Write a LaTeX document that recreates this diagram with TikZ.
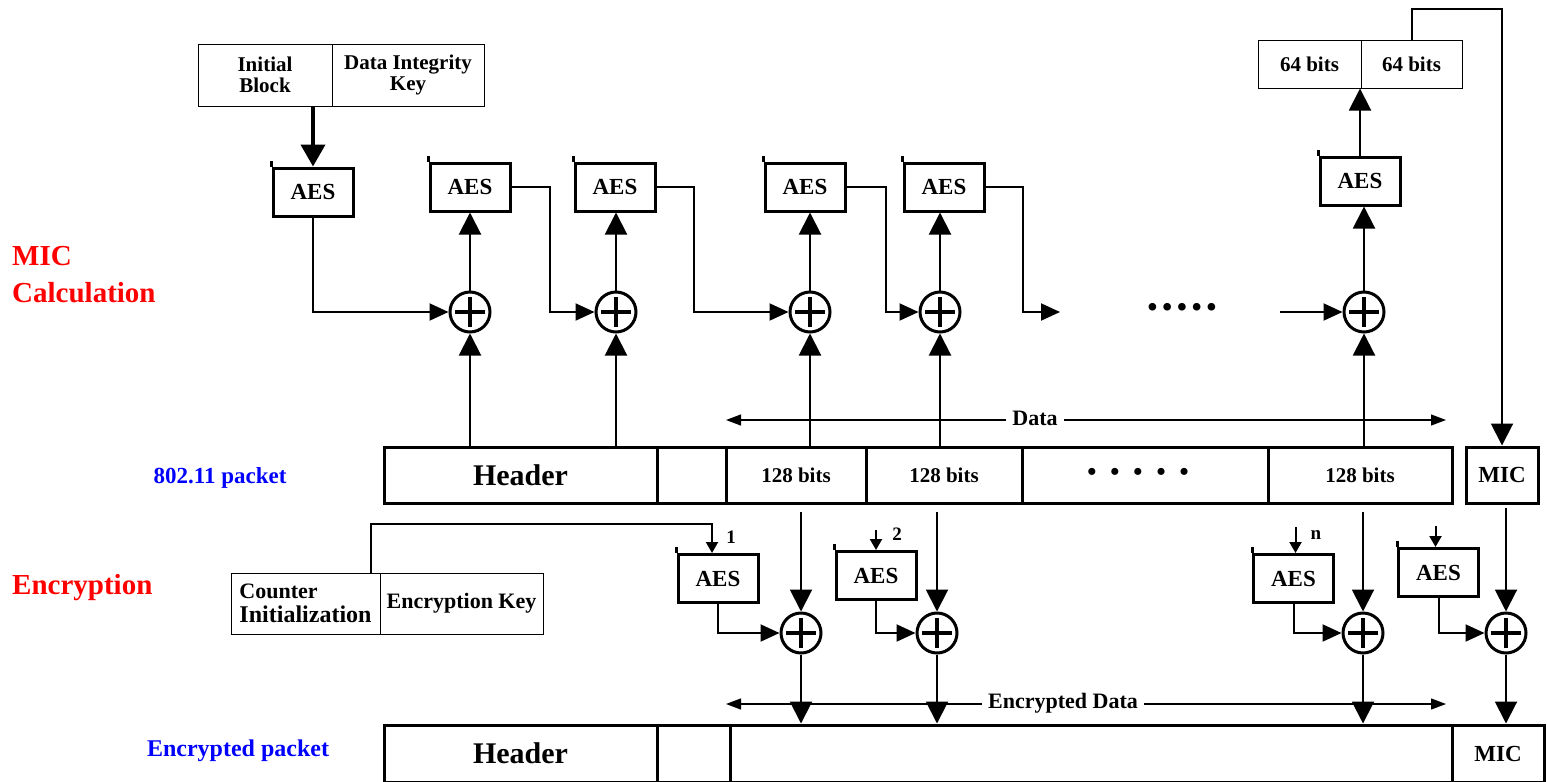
\documentclass[tikz,border=0pt]{standalone}
\usepackage{fontspec}
\setmainfont{Liberation Serif}
\usetikzlibrary{arrows.meta}
\newcommand\myfs[1]{\fontsize{#1}{#1}\selectfont}
\begin{document}
\begin{tikzpicture}[x=1pt,y=-1pt,
  every node/.style={font=\bfseries},
  aes/.style={draw,line width=3pt,minimum width=80pt,minimum height=48pt,inner sep=0pt,font=\bfseries\myfs{23}},
  xor/.style={circle,draw,line width=3pt,minimum size=40pt,inner sep=0pt,
    path picture={\draw[line width=3.5pt]
      ([xshift=-15pt]path picture bounding box.center) -- ([xshift=15pt]path picture bounding box.center)
      ([yshift=-15pt]path picture bounding box.center) -- ([yshift=15pt]path picture bounding box.center);}},
  cell/.style={draw,line width=3pt,minimum height=56pt,inner sep=0pt,font=\bfseries\myfs{21}},
  thincell/.style={draw,line width=1pt,inner sep=0pt,font=\bfseries\myfs{21}},
  conn/.style={line width=2pt},
  arr/.style={line width=2pt,-{Triangle[length=22pt,width=22pt]}},
  harr/.style={line width=2pt,-{Triangle[length=19pt,width=17pt]}},
  sarr/.style={line width=2pt,-{Triangle[length=11pt,width=12pt]}},
  darr/.style={line width=1.2pt,{Triangle[length=15pt,width=11pt]}-{Triangle[length=15pt,width=11pt]}},
  lbl/.style={fill=white,inner sep=6pt,font=\bfseries\myfs{22}},
]
\useasboundingbox (0,0) rectangle (1548,782);

% ---------- side labels ----------
\node[anchor=west,align=left,text=red,font=\bfseries\fontsize{29}{37}\selectfont,inner sep=0pt] (micl) at (12,275) {MIC\\Calculation};
\node[anchor=west,text=red,font=\bfseries\myfs{29},inner sep=0pt] (encl) at (12,588) {Encryption};
\node[text=blue,font=\bfseries\myfs{23}] (pk) at (220,478) {802.11 packet};
\node[text=blue,font=\bfseries\myfs{24}] (epk) at (238,751) {Encrypted packet};

% ---------- initial block ----------
\node[thincell,minimum width=134pt,minimum height=62pt,align=center] (ib1) at (265,75) {Initial\\Block};
\node[thincell,minimum width=152pt,minimum height=62pt,align=center] (ib2) at (408,75) {Data Integrity\\Key};

% ---------- MIC AES boxes ----------
\node[aes] (aes0) at (313,192) {AES};
\node[aes] (aes1) at (470,187) {AES};
\node[aes] (aes2) at (615,187) {AES};
\node[aes] (aes3) at (805,187) {AES};
\node[aes] (aes4) at (944,187) {AES};
\node[aes] (aes5) at (1360,181) {AES};

% XOR top row
\node[xor] (x1) at (470,312) {};
\node[xor] (x2) at (616,312) {};
\node[xor] (x3) at (810,312) {};
\node[xor] (x4) at (940,312) {};
\node[xor] (x5) at (1364,312) {};

% 64 bits box
\node[thincell,minimum width=103pt,minimum height=48pt] (sf1) at (1309.5,64) {64 bits};
\node[thincell,minimum width=101pt,minimum height=48pt] (sf2) at (1411.5,64) {64 bits};

% ---------- 802.11 packet ----------
\node[cell,minimum width=273pt] (hdr) at (520.5,475) {\myfs{30}Header};
\node[cell,minimum width=69pt] (gap) at (691.5,475) {};
\node[cell,minimum width=140pt] (b1) at (796,475) {128 bits};
\node[cell,minimum width=156pt] (b2) at (944,475) {128 bits};
\node[cell,minimum width=246pt] (bd) at (1145,475) {\myfs{26}\raisebox{1pt}{\textbullet\hskip 14pt\textbullet\hskip 14pt\textbullet\hskip 14pt\textbullet\hskip 14pt\textbullet}\hspace*{14pt}};
\node[cell,minimum width=184pt] (bn) at (1360,475) {128 bits};
\node[cell,minimum width=72pt,font=\bfseries\myfs{23}] (mic) at (1502,475) {MIC};

% Data arrow
\coordinate (dl) at (726,420);
\coordinate (dr) at (1446,420);
\draw[darr] (dl) -- (dr);
\node[lbl] (dlab) at (1035,418) {Data};

% ---------- MIC chain connectors ----------
\draw[line width=4pt,-{Triangle[length=22pt,width=24pt]}] (aes0.north |- ib1.south) -- (aes0.north);
\draw[harr] (aes0.south) |- (x1.west);
\draw[arr] (x1.north) -- (x1.north |- aes1.south);
\draw[harr] (aes1.east) -- ++(38,0) |- (x2.west);
\draw[arr] (x2.north) -- (x2.north |- aes2.south);
\draw[harr] (aes2.east) -- ++(37,0) |- (x3.west);
\draw[arr] (x3.north) -- (x3.north |- aes3.south);
\draw[harr] (aes3.east) -- ++(39,0) |- (x4.west);
\draw[arr] (x4.north) -- (x4.north |- aes4.south);
\coordinate (gl) at (1060,312);
\draw[harr] (aes4.east) -- ++(37,0) |- (gl);
\node[font=\bfseries\myfs{28}] (tdots) at (1182,310) {\textbullet\hskip 5pt\textbullet\hskip 5pt\textbullet\hskip 5pt\textbullet\hskip 5pt\textbullet};
\coordinate (gr) at (1280,312);
\draw[harr] (gr) -- (x5.west);
\draw[arr] (x5.north) -- (x5.north |- aes5.south);
\draw[arr] (aes5.north) -- (aes5.north |- sf1.south);
\draw[arr] (sf2.north) -- ++(0,-31) -| (mic.north);

% packet -> top XORs
\draw[arr] (x1.south |- hdr.north) -- (x1.south);
\draw[arr] (x2.south |- hdr.north) -- (x2.south);
\draw[arr] (x3.south |- b1.north) -- (x3.south);
\draw[arr] (x4.south |- b2.north) -- (x4.south);
\draw[arr] (x5.south |- bn.north) -- (x5.south);

% ---------- Encryption ----------
\node[thincell,minimum width=149pt,minimum height=61pt,align=left,anchor=center] (c1) at (305.5,603.5) {{\myfs{22}Counter}\\[3pt]{\myfs{24}Initialization}};
\node[thincell,minimum width=163pt,minimum height=61pt] (c2) at (461.5,603.5) {\myfs{22}Encryption Key};

\node[aes] (e1) at (718,578.5) {AES};
\node[aes] (e2) at (876,575.5) {AES};
\node[aes] (en) at (1293.5,578.5) {AES};
\node[aes] (em) at (1438.5,572.5) {AES};

\node[xor] (y1) at (801,633) {};
\node[xor] (y2) at (937,633) {};
\node[xor] (yn) at (1363,633) {};
\node[xor] (ym) at (1506,633) {};

\draw[sarr] ([xshift=-10pt]c1.north east) -- ++(0,-49) -| ([xshift=-6pt]e1.north);
\node[font=\bfseries\myfs{19}] (l1) at (731,537) {1};
\draw[sarr] ([yshift=20pt]e2.north) -- (e2.north);
\node[font=\bfseries\myfs{19}] (l2) at (897,534) {2};
\draw[sarr] ([xshift=2pt,yshift=26pt]en.north) -- ([xshift=2pt]en.north);
\node[font=\bfseries\myfs{19}] (ln) at (1316,535) {n};
\draw[sarr] ([xshift=-3pt,yshift=21pt]em.north) -- ([xshift=-3pt]em.north);

\draw[harr] (e1.south) |- (y1.west);
\draw[harr] (e2.south) |- (y2.west);
\draw[harr] (en.south) |- (yn.west);
\draw[harr] (em.south) |- (ym.west);

\draw[arr,shorten <=7pt] (y1.north |- b1.south) -- (y1.north);
\draw[arr,shorten <=7pt] (y2.north |- b2.south) -- (y2.north);
\draw[arr,shorten <=7pt] (yn.north |- bn.south) -- (yn.north);
\draw[arr,shorten <=3pt] (ym.north |- mic.south) -- (ym.north);

% ---------- Encrypted packet ----------
\node[cell,minimum width=273pt,minimum height=57pt] (ehdr) at (520.5,753.5) {\myfs{30}Header};
\node[cell,minimum width=73pt,minimum height=57pt] (egap) at (693.5,753.5) {};
\node[cell,minimum width=722pt,minimum height=57pt] (edata) at (1091,753.5) {};
\node[cell,minimum width=92pt,minimum height=57pt,font=\bfseries\myfs{23}] (emic) at (1498,753.5) {MIC};

\coordinate (el) at (726,704);
\coordinate (er) at (1446,704);
\draw[darr] (el) -- (er);
\node[lbl] (elab) at (1063,703) {Encrypted Data};

\draw[arr] (y1.south) -- (y1.south |- edata.north);
\draw[arr] (y2.south) -- (y2.south |- edata.north);
\draw[arr] (yn.south) -- (yn.south |- edata.north);
\draw[arr] (ym.south) -- (ym.south |- emic.north);

% AES box corner ticks
\foreach \n in {aes0,aes1,aes2,aes3,aes4,aes5,e1,e2,en,em}
  \draw[line width=3pt] (\n.north west) -- ++(0,-6);
\end{tikzpicture}
\end{document}
